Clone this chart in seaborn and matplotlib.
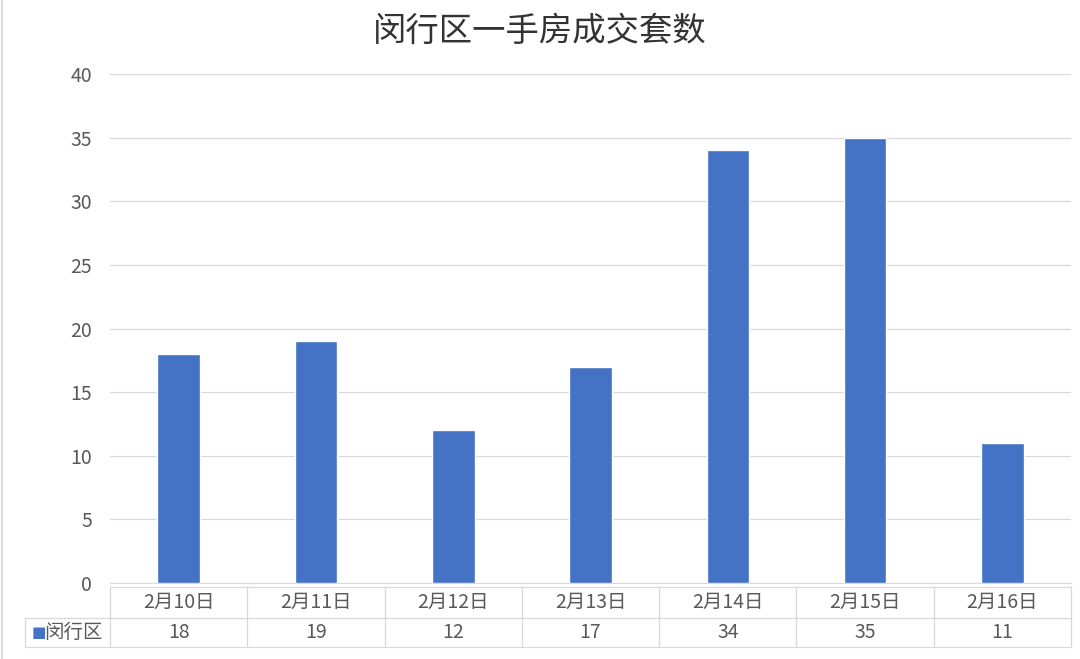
import seaborn as sns
import matplotlib.pyplot as plt
import pandas as pd

# data
dates = ['2月10日', '2月11日', '2月12日', '2月13日', '2月14日', '2月15日', '2月16日']
counts = [18, 19, 12, 17, 34, 35, 11]
series_name = '闵行区'
title = '闵行区一手房成交套数'

df = pd.DataFrame({'date': dates, 'count': counts})

sns.set_style('white')
plt.rcParams['font.family'] = ['Noto Sans CJK SC', 'DejaVu Sans']

bar_color = '#4472C4'
text_color = '#595959'
line_color = '#D9D9D9'

fig = plt.figure(figsize=(10.8, 6.59), dpi=100)
ax = fig.add_axes([0.1019, 0.1153, 0.8898, 0.7724])

sns.barplot(data=df, x='date', y='count', color=bar_color, width=0.31,
            saturation=1, ax=ax, zorder=3)

ax.set_ylim(0, 40)
ax.set_yticks(range(0, 41, 5))
ax.set_xlim(-0.5, len(dates) - 0.5)
ax.grid(axis='y', color=line_color, linewidth=0.9, zorder=0)
ax.tick_params(axis='y', labelsize=14, colors=text_color, length=0, pad=13)
ax.set_xticks([])
ax.set_xlabel('')
ax.set_ylabel('')
for s in ['top', 'right', 'left']:
    ax.spines[s].set_visible(False)
ax.spines['bottom'].set_color(line_color)

fig.text(0.5, 0.953, title, ha='center', va='center', fontsize=24,
         color='#333333', fontweight='medium')

# data table below the axis
trans = ax.get_xaxis_transform()
h = 0.7724 * 6.59 * 100  # axes height px
y_top = -4 / h
y_mid = -35 / h
y_bot = -64 / h
kw = dict(transform=trans, clip_on=False, color=line_color, linewidth=0.9)
x0, x1 = -0.5, len(dates) - 0.5
left_x = -0.5 - 85 / 137.3
ax.plot([x0, x1], [y_top, y_top], **kw)
ax.plot([left_x, x1], [y_mid, y_mid], **kw)
ax.plot([left_x, x1], [y_bot, y_bot], **kw)
ax.plot([left_x, left_x], [y_mid, y_bot], **kw)
for i in range(len(dates) + 1):
    ax.plot([i - 0.5, i - 0.5], [y_top, y_bot], **kw)

for i, (d, c) in enumerate(zip(dates, counts)):
    ax.text(i, (y_top + y_mid) / 2, d, transform=trans, ha='center', va='center',
            fontsize=14, color=text_color)
    ax.text(i, (y_mid + y_bot) / 2, str(c), transform=trans, ha='center', va='center',
            fontsize=14, color=text_color)

ax.text(left_x + 0.05, (y_mid + y_bot) / 2, '■', transform=trans, ha='left', va='center',
        fontsize=11, color=bar_color, family=['DejaVu Sans'])
ax.text(left_x + 0.14, (y_mid + y_bot) / 2, series_name, transform=trans, ha='left',
        va='center', fontsize=14, color=text_color)

# thin outer border like the source image
fig.add_artist(plt.Line2D([0.002, 0.002], [0, 1], color=line_color, linewidth=1.5))

fig.savefig('out.png', dpi=100)
